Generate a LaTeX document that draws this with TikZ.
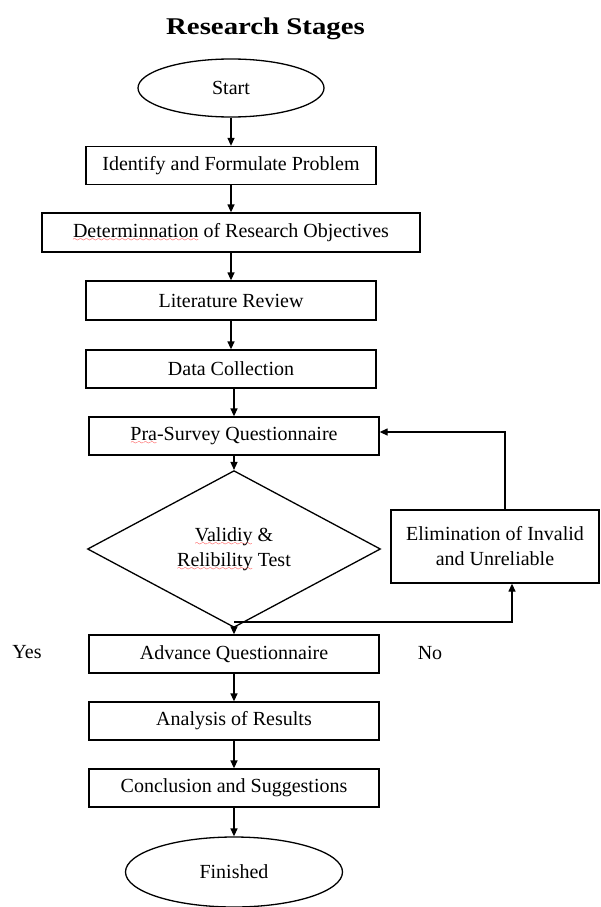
\documentclass[tikz,border=0pt]{standalone}
\usepackage{fontspec}
\setmainfont{Liberation Serif}
\usetikzlibrary{shapes.geometric,arrows.meta}
\font\wavefnt=lasy6 at 7pt
\newsavebox\wavebox
\newcommand\redwave[1]{\sbox\wavebox{#1}\rlap{\textcolor{red}{\lower4pt\hbox to \wd\wavebox{\xleaders\hbox{\wavefnt\char58}\hfil}}}\usebox\wavebox}
\tikzset{
  every node/.style={font=\fontsize{20}{25}\selectfont},
  stepbox/.style={draw, line width=1.3pt, rectangle, inner sep=0pt, minimum width=290pt, minimum height=38pt},
  term/.style={draw, line width=1.3pt, ellipse, inner sep=0pt},
  decide/.style={draw, line width=1.3pt, diamond, inner sep=0pt, minimum width=293pt, minimum height=120pt, align=center},
  arr/.style={line width=1.3pt, -{Triangle[length=8pt,width=7pt]}},
  lbl/.style={inner sep=0pt}
}
\begin{document}
\begin{tikzpicture}[x=1pt,y=-1pt]
\useasboundingbox (0,0) rectangle (600,907);
\node[lbl, anchor=base, font=\bfseries\fontsize{24}{28}\selectfont] (title) at (265.5,35) {\scalebox{1.2}[1]{Research Stages}};
\node[term, minimum width=186pt, minimum height=58pt] (start) at (231,88) {Start};
\node[stepbox] (b1) at (231,165.5) {Identify and Formulate Problem};
\node[stepbox, minimum width=378pt, minimum height=39pt] (b2) at (231,232.5) {\redwave{Determinnation} of Research Objectives};
\node[stepbox, minimum height=39pt] (b3) at (231,300.5) {Literature Review};
\node[stepbox] (b4) at (231,369) {Data Collection};
\node[stepbox] (b5) at (234,436) {\redwave{Pra}-Survey Questionnaire};
\node[decide] (dec) at (234,549) {\redwave{Validiy} \&\\ \redwave{Relibility} Test};
\node[stepbox, minimum width=208pt, minimum height=73pt, align=center] (elim) at (495,546.5) {Elimination of Invalid\\ and Unreliable};
\node[stepbox] (adv) at (234,654) {Advance Questionnaire};
\node[stepbox] (ana) at (234,721) {Analysis of Results};
\node[stepbox] (con) at (234,788) {Conclusion and Suggestions};
\node[term, minimum width=217pt, minimum height=70pt] (fin) at (234,872) {Finished};
\node[lbl] (yes) at (27,652) {Yes};
\node[lbl] (no) at (430,653) {No};
\coordinate (br) at (234,622);
\draw[arr] (start.south) -- (b1.north);
\draw[arr] (b1.south) -- (b2.north);
\draw[arr] (b2.south) -- (b3.north);
\draw[arr] (b3.south) -- (b4.north);
\draw[arr] (b4.south -| b5.north) -- (b5.north);
\draw[arr] (b5.south) -- (dec.north);
\draw[arr] (dec.south) -- (adv.north);
\draw[arr] (br) -| ([xshift=17pt]elim.south);
\draw[arr] ([xshift=10pt]elim.north) |- ([yshift=4pt]b5.east);
\draw[arr] (adv.south) -- (ana.north);
\draw[arr] (ana.south) -- (con.north);
\draw[arr] (con.south) -- (fin.north);
\end{tikzpicture}
\end{document}
